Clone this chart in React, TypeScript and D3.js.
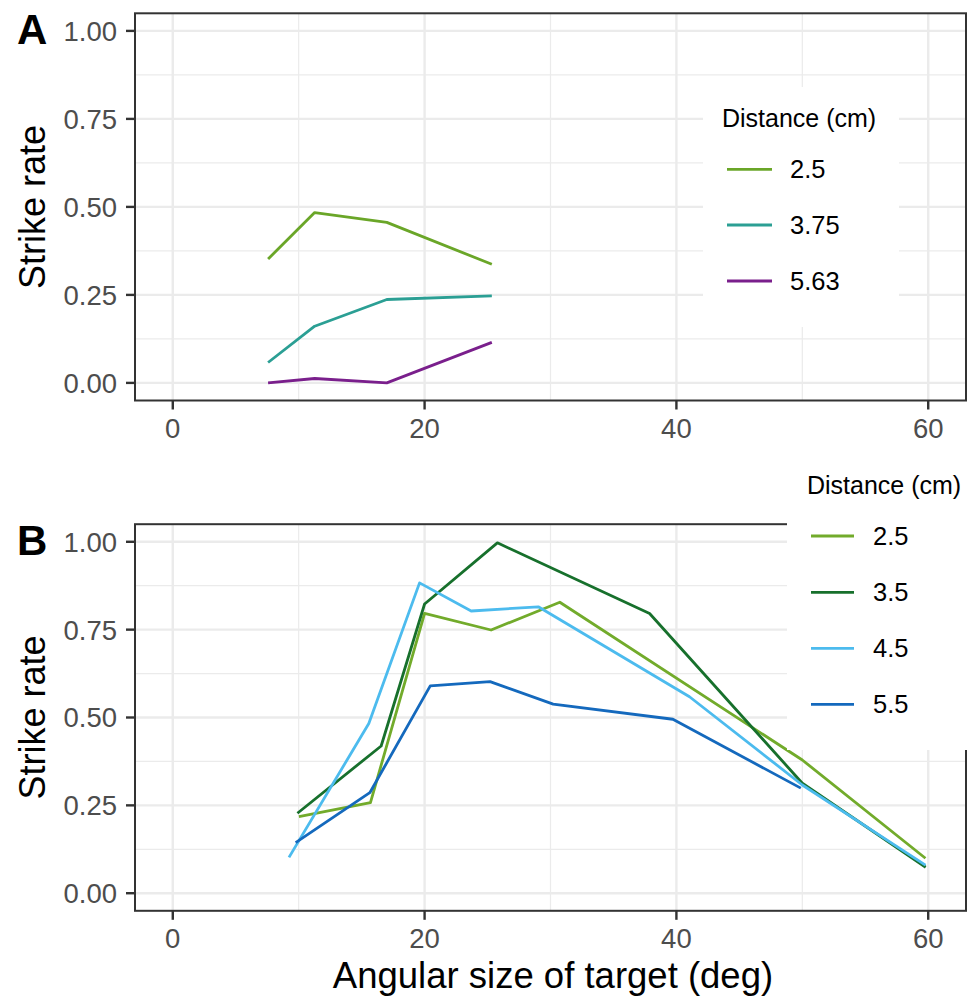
import React from "react";
import * as d3 from "d3";

// ---------- Data ----------
const xTicks = [0, 20, 40, 60];
const xMinor = [10, 30, 50];
const yTicks = [0, 0.25, 0.5, 0.75, 1.0];
const yTickLabels = ["0.00", "0.25", "0.50", "0.75", "1.00"];
const yMinor = [0.125, 0.375, 0.625, 0.875];

// Panel A
const distancesA = ["2.5", "3.75", "5.63"];
const colorsA = ["#6aa628", "#2b9f94", "#7a1f8c"];
const angleA = [7.57, 11.27, 17.0, 25.34];
const rateA_2_5 = [0.352, 0.484, 0.456, 0.337];
const rateA_3_75 = [0.058, 0.161, 0.237, 0.247];
const rateA_5_63 = [0.0, 0.0125, 0.0, 0.115];

// Panel B
const distancesB = ["2.5", "3.5", "4.5", "5.5"];
const colorsB = ["#72ab2b", "#17702c", "#4cbbee", "#1469bd"];
const angleB_2_5 = [10.02, 15.7, 20.0, 25.28, 30.74, 50.0, 59.78];
const rateB_2_5 = [0.218, 0.258, 0.796, 0.749, 0.828, 0.379, 0.0995];
const angleB_3_5 = [9.9, 16.55, 20.0, 25.78, 37.87, 50.0, 59.8];
const rateB_3_5 = [0.2275, 0.419, 0.823, 0.997, 0.796, 0.313, 0.074];
const angleB_4_5 = [9.23, 15.57, 19.6, 23.7, 29.03, 41.04, 50.0, 59.78];
const rateB_4_5 = [0.102, 0.483, 0.883, 0.803, 0.815, 0.559, 0.308, 0.08];
const angleB_5_5 = [9.76, 15.65, 20.45, 25.2, 30.21, 39.72, 49.88];
const rateB_5_5 = [0.144, 0.286, 0.59, 0.602, 0.538, 0.495, 0.299];

const seriesA = [
  { x: angleA, y: rateA_2_5 },
  { x: angleA, y: rateA_3_75 },
  { x: angleA, y: rateA_5_63 },
];
const seriesB = [
  { x: angleB_2_5, y: rateB_2_5 },
  { x: angleB_3_5, y: rateB_3_5 },
  { x: angleB_4_5, y: rateB_4_5 },
  { x: angleB_5_5, y: rateB_5_5 },
];

const FONT = "'Liberation Sans', Arial, sans-serif";
const L = 135, R = 966;

const x = d3.scaleLinear().domain([-3, 63]).range([L, R]);

type Panel = {
  tag: string;
  top: number;
  bottom: number;
  series: { x: number[]; y: number[] }[];
  colors: string[];
};

function PanelG({ p }: { p: Panel }) {
  const y = d3.scaleLinear().domain([-0.05, 1.05]).range([p.bottom, p.top]);
  const line = d3
    .line<[number, number]>()
    .x((d) => x(d[0]))
    .y((d) => y(d[1]));
  return (
    <g>
      <rect x={L} y={p.top} width={R - L} height={p.bottom - p.top} fill="#ffffff" />
      {yMinor.map((v) => (
        <line key={"ym" + v} x1={L} x2={R} y1={y(v)} y2={y(v)} stroke="#ebebeb" strokeWidth={1.2} />
      ))}
      {xMinor.map((v) => (
        <line key={"xm" + v} x1={x(v)} x2={x(v)} y1={p.top} y2={p.bottom} stroke="#ebebeb" strokeWidth={1.2} />
      ))}
      {yTicks.map((v) => (
        <line key={"yg" + v} x1={L} x2={R} y1={y(v)} y2={y(v)} stroke="#ebebeb" strokeWidth={2.4} />
      ))}
      {xTicks.map((v) => (
        <line key={"xg" + v} x1={x(v)} x2={x(v)} y1={p.top} y2={p.bottom} stroke="#ebebeb" strokeWidth={2.4} />
      ))}
      {p.series.map((s, i) => (
        <path
          key={"s" + i}
          d={line(s.x.map((xv, j) => [xv, s.y[j]] as [number, number])) || ""}
          fill="none"
          stroke={p.colors[i]}
          strokeWidth={2.8}
          strokeLinejoin="round"
        />
      ))}
      <rect x={L} y={p.top} width={R - L} height={p.bottom - p.top} fill="none" stroke="#333333" strokeWidth={2} />
      {yTicks.map((v, i) => (
        <g key={"yt" + v}>
          <line x1={L - 9} x2={L} y1={y(v)} y2={y(v)} stroke="#333333" strokeWidth={2.4} />
          <text x={117} y={y(v)} dy="0.36em" textAnchor="end" fontSize={27.5} fill="#4d4d4d" fontFamily={FONT}>
            {yTickLabels[i]}
          </text>
        </g>
      ))}
      {xTicks.map((v) => (
        <g key={"xt" + v}>
          <line x1={x(v)} x2={x(v)} y1={p.bottom} y2={p.bottom + 9} stroke="#333333" strokeWidth={2.4} />
          <text x={x(v)} y={p.bottom + 37.5} textAnchor="middle" fontSize={27.5} fill="#4d4d4d" fontFamily={FONT}>
            {v}
          </text>
        </g>
      ))}
      <text
        transform={`translate(45,${(y(0) + y(1)) / 2}) rotate(-90)`}
        textAnchor="middle"
        fontSize={36}
        fill="#000000"
        fontFamily={FONT}
      >
        Strike rate
      </text>
      <text x={17} y={p.top + 31} fontSize={42} fontWeight="bold" fill="#000000" fontFamily={FONT}>
        {p.tag}
      </text>
    </g>
  );
}

function Legend({
  box,
  titleX,
  titleY,
  keyX1,
  keyX2,
  labelX,
  keyYs,
  labels,
  colors,
}: {
  box: [number, number, number, number];
  titleX: number;
  titleY: number;
  keyX1: number;
  keyX2: number;
  labelX: number;
  keyYs: number[];
  labels: string[];
  colors: string[];
}) {
  return (
    <g>
      <rect x={box[0]} y={box[1]} width={box[2]} height={box[3]} fill="#ffffff" />
      <text x={titleX} y={titleY} fontSize={25} fill="#000000" fontFamily={FONT}>
        Distance (cm)
      </text>
      {labels.map((lab, i) => (
        <g key={lab}>
          <line x1={keyX1} x2={keyX2} y1={keyYs[i]} y2={keyYs[i]} stroke={colors[i]} strokeWidth={2.8} />
          <text x={labelX} y={keyYs[i]} dy="0.36em" fontSize={25.5} fill="#000000" fontFamily={FONT}>
            {lab}
          </text>
        </g>
      ))}
    </g>
  );
}

export default function App() {
  const panelA: Panel = { tag: "A", top: 13.3, bottom: 400.5, series: seriesA, colors: colorsA };
  const panelB: Panel = { tag: "B", top: 524.2, bottom: 910.8, series: seriesB, colors: colorsB };
  return (
    <div style={{ position: "absolute", left: 0, top: 0 }}>
      <svg width={974} height={999} style={{ display: "block", background: "#ffffff" }}>
        <rect x={0} y={0} width={974} height={999} fill="#ffffff" />
        <PanelG p={panelA} />
        <PanelG p={panelB} />
        <Legend
          box={[703, 87, 196, 240]}
          titleX={722}
          titleY={127}
          keyX1={727}
          keyX2={772}
          labelX={790}
          keyYs={[169.3, 225, 281]}
          labels={distancesA}
          colors={colorsA}
        />
        <Legend
          box={[787, 455, 187, 295]}
          titleX={807}
          titleY={494}
          keyX1={811}
          keyX2={854}
          labelX={873}
          keyYs={[536, 592.3, 648.3, 704.3]}
          labels={distancesB}
          colors={colorsB}
        />
        <text x={553} y={988} textAnchor="middle" fontSize={36.5} fill="#000000" fontFamily={FONT}>
          Angular size of target (deg)
        </text>
      </svg>
    </div>
  );
}
